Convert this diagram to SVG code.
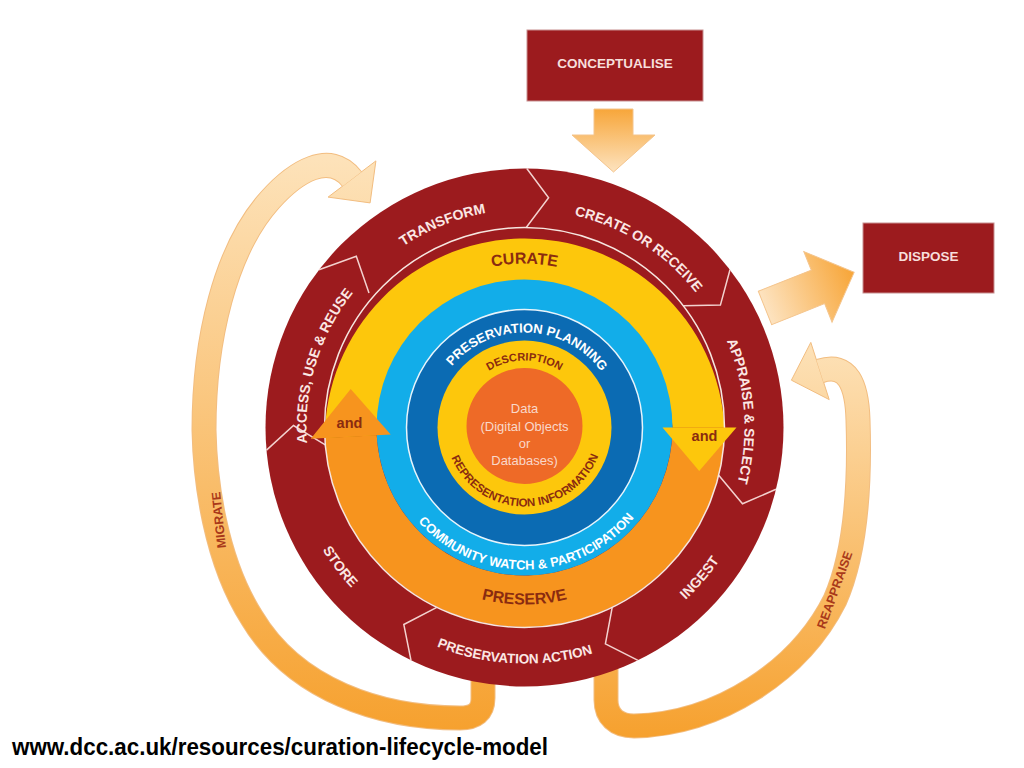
<svg xmlns="http://www.w3.org/2000/svg" width="1024" height="768" viewBox="0 0 1024 768">
<defs>
<style>
.f{font-family:"Liberation Sans",Arial,sans-serif;font-weight:bold}
.rl{fill:#fbe7e4;font-size:14px}
.br{fill:#8a2b10}
.wt{fill:#ffffff;font-size:13px}
.box{fill:#9c1b1e;stroke:#c79090;stroke-width:1}
.bt{fill:#f7dedb;font-size:13.5px}
.sep{fill:none;stroke:#f3d2cf;stroke-width:1.5;stroke-linejoin:miter}
.bandb{fill:none;stroke:#f2bd80;stroke-width:25}
.lbl{fill:#a9391a;font-size:12.5px}
.core{font-family:"Liberation Sans",Arial,sans-serif;fill:#f9d8ca;font-size:13px}
</style>
<linearGradient id="gMig" gradientUnits="userSpaceOnUse" x1="0" y1="160" x2="0" y2="730"><stop offset="0" stop-color="#fde2b9"/><stop offset="1" stop-color="#f6a12f"/></linearGradient>
<linearGradient id="gRea" gradientUnits="userSpaceOnUse" x1="0" y1="340" x2="0" y2="735"><stop offset="0" stop-color="#fde2b9"/><stop offset="1" stop-color="#f6a12f"/></linearGradient>
<linearGradient id="gCon" x1="0" y1="0" x2="0" y2="1"><stop offset="0" stop-color="#f7a63a"/><stop offset="1" stop-color="#fde3bf"/></linearGradient>
<linearGradient id="gDis" x1="0" y1="0" x2="1" y2="0"><stop offset="0" stop-color="#fde3c0"/><stop offset="1" stop-color="#f7a537"/></linearGradient>
<path id="cw218" d="M 524.5 645.5 A 218 218 0 1 1 524.5 209.5 A 218 218 0 1 1 524.5 645.5"/>
<path id="cw220" d="M 524.5 647.5 A 220 220 0 1 1 524.5 207.5 A 220 220 0 1 1 524.5 647.5"/>
<path id="cw164" d="M 524.5 591.5 A 164 164 0 1 1 524.5 263.5 A 164 164 0 1 1 524.5 591.5"/>
<path id="cw95" d="M 524.5 522.5 A 95 95 0 1 1 524.5 332.5 A 95 95 0 1 1 524.5 522.5"/>
<path id="cw67" d="M 524.5 494.5 A 67 67 0 1 1 524.5 360.5 A 67 67 0 1 1 524.5 494.5"/>
<path id="ccw236" d="M 524.5 191.5 A 236 236 0 1 0 524.5 663.5 A 236 236 0 1 0 524.5 191.5"/>
<path id="ccw177" d="M 524.5 250.5 A 177 177 0 1 0 524.5 604.5 A 177 177 0 1 0 524.5 250.5"/>
<path id="ccw142" d="M 524.5 285.5 A 142 142 0 1 0 524.5 569.5 A 142 142 0 1 0 524.5 285.5"/>
<path id="ccw79" d="M 524.5 348.5 A 79 79 0 1 0 524.5 506.5 A 79 79 0 1 0 524.5 348.5"/>
</defs>
<rect width="1024" height="768" fill="#ffffff"/>

<g id="connectors">
  <g id="migrate">
    <path class="bandb" d="M 483 660 L 483 698 C 483 712 475 718 460 718 C 380 718 295 690 252 618 C 215 560 205 480 204 430 C 204 340 225 250 270 200 C 295 172 330 150 352 179"/>
    <polygon points="375.9,160.9 370.1,202.9 328.1,197.1" fill="url(#gMig)" stroke="#f2bd80" stroke-width="1"/>
    <path d="M 483 660 L 483 698 C 483 712 475 718 460 718 C 380 718 295 690 252 618 C 215 560 205 480 204 430 C 204 340 225 250 270 200 C 295 172 330 150 352 179" fill="none" stroke="url(#gMig)" stroke-width="23"/>
    <text class="f lbl" transform="translate(219 520) rotate(-96)" text-anchor="middle" dominant-baseline="central">MIGRATE</text>
  </g>
  <g id="reappraise">
    <path class="bandb" d="M 606 660 L 606 700 C 606 716 616 726 634 726 C 720 724 800 670 835 600 C 857 550 860 480 858 420 C 857 385 848 362 820 371"/>
    <polygon points="810.8,342.4 791.4,380.2 829.2,399.6" fill="url(#gRea)" stroke="#f2bd80" stroke-width="1"/>
    <path d="M 606 660 L 606 700 C 606 716 616 726 634 726 C 720 724 800 670 835 600 C 857 550 860 480 858 420 C 857 385 848 362 820 371" fill="none" stroke="url(#gRea)" stroke-width="23"/>
    <text class="f lbl" transform="translate(835 590) rotate(-70)" text-anchor="middle" dominant-baseline="central">REAPPRAISE</text>
  </g>
  <polygon id="arrow-conceptualise" points="594,109 633,109 633,135 655,135 613.5,172 572,135 594,135" fill="url(#gCon)" stroke="#f4c48c" stroke-width="1"/>
  <g id="arrow-dispose" transform="translate(765 308) rotate(-21.8)">
    <polygon points="0,-18 57,-18 57,-38 96,0 57,38 57,18 0,18" fill="url(#gDis)" stroke="#f4c48c" stroke-width="1"/>
  </g>
</g>

<g id="conceptualise">
  <rect class="box" x="527" y="30" width="176" height="71"/>
  <text class="f bt" x="615" y="68" text-anchor="middle">CONCEPTUALISE</text>
</g>
<g id="dispose">
  <rect class="box" x="863" y="223" width="131" height="70"/>
  <text class="f bt" x="928.5" y="260.5" text-anchor="middle">DISPOSE</text>
</g>

<g id="lifecycle">
  <circle cx="524.5" cy="427.5" r="259" fill="#9c1b1e"/>
  <g id="separators">
    <polyline class="sep" points="526.8,168.5 548.6,197.8 526.2,227.5"/>
    <polyline class="sep" points="730.0,269.8 720.4,305.1 683.2,305.7"/>
    <polyline class="sep" points="776.0,489.3 742.5,503.8 718.7,475.2"/>
    <polyline class="sep" points="638.0,660.3 605.4,643.9 612.2,607.3"/>
    <polyline class="sep" points="411.0,660.3 403.8,624.5 436.8,607.3"/>
    <polyline class="sep" points="266.5,450.1 293.5,425.5 325.3,444.9"/>
    <polyline class="sep" points="319.0,269.8 356.3,256.3 369.0,293.0"/>
  </g>
  <g id="action-labels">
    <g id="access"><text class="f rl" text-anchor="middle" font-size="13"><textPath href="#cw218" startOffset="29.72%">ACCESS, USE &amp; REUSE</textPath></text></g>
    <g id="transform"><text class="f rl" text-anchor="middle"><textPath href="#cw218" startOffset="43.89%">TRANSFORM</textPath></text></g>
    <g id="create"><text class="f rl" text-anchor="middle"><textPath href="#cw218" startOffset="59.03%">CREATE OR RECEIVE</textPath></text></g>
    <g id="appraise"><text class="f rl" text-anchor="middle"><textPath href="#cw220" startOffset="73.8%">APPRAISE &amp; SELECT</textPath></text></g>
    <g id="store"><text class="f rl" text-anchor="middle"><textPath href="#ccw236" startOffset="35.28%">STORE</textPath></text></g>
    <g id="preservation-action"><text class="f rl" text-anchor="middle" style="font-size:13.5px"><textPath href="#ccw236" startOffset="49.31%">PRESERVATION ACTION</textPath></text></g>
    <g id="ingest"><text class="f rl" text-anchor="middle"><textPath href="#ccw236" startOffset="63.72%">INGEST</textPath></text></g>
  </g>

  <g id="curate-preserve">
    <path d="M 724.5 427.5 A 200 200 0 0 1 324.8 437.9 L 376.7 435.2 A 148 148 0 0 0 672.5 427.5 Z" fill="#f7941e"/>
    <path d="M 324.8 437.9 A 200 200 0 0 1 724.5 427.5 L 672.5 427.5 A 148 148 0 0 0 376.7 435.2 Z" fill="#fdc70c"/>
    <circle cx="524.5" cy="427.5" r="200" fill="none" stroke="#f6e6e0" stroke-width="1.5"/>
    <text class="f br" text-anchor="middle" font-size="16"><textPath href="#cw164" startOffset="50%">CURATE</textPath></text>
    <text class="f br" text-anchor="middle" font-size="16"><textPath href="#ccw177" startOffset="50%">PRESERVE</textPath></text>
  </g>

  <g id="community">
    <circle cx="524.5" cy="427.5" r="148" fill="#12ade9"/>
    <text class="f wt" text-anchor="middle"><textPath href="#ccw142" startOffset="50.28%">COMMUNITY WATCH &amp; PARTICIPATION</textPath></text>
  </g>
  <g id="and-arrows">
    <polygon points="736.5,427.5 699.2,471.0 662.5,427.5" fill="#fdc70c"/>
    <polygon points="310.8,438.7 350.7,389.0 390.7,434.5" fill="#f7941e"/>
    <text class="f br" x="349.5" y="428" text-anchor="middle" font-size="14.5">and</text>
    <text class="f br" x="704.5" y="441" text-anchor="middle" font-size="14.5">and</text>
  </g>
  <g id="planning">
    <circle cx="524.5" cy="427.5" r="118" fill="#0b6bb3" stroke="#e8f4fb" stroke-width="1.5"/>
    <text class="f wt" text-anchor="middle"><textPath href="#cw95" startOffset="50.56%">PRESERVATION PLANNING</textPath></text>
  </g>
  <g id="description">
    <circle cx="524.5" cy="427.5" r="87" fill="#fdc70c"/>
    <text class="f br" text-anchor="middle" font-size="11"><textPath href="#cw67" startOffset="50%">DESCRIPTION</textPath></text>
    <text class="f br" text-anchor="middle" font-size="11.5"><textPath href="#ccw79" startOffset="50.17%">REPRESENTATION INFORMATION</textPath></text>
  </g>
  <g id="data">
    <circle cx="524.5" cy="426" r="58" fill="#ee6a27"/>
    <text class="core" x="524.5" y="412.5" text-anchor="middle">Data</text>
    <text class="core" x="524.5" y="430.5" text-anchor="middle">(Digital Objects</text>
    <text class="core" x="524.5" y="448" text-anchor="middle">or</text>
    <text class="core" x="524.5" y="465" text-anchor="middle">Databases)</text>
  </g>
</g>

<text id="url" class="f" x="12" y="755" font-size="23" fill="#000000" textLength="536" lengthAdjust="spacingAndGlyphs">www.dcc.ac.uk/resources/curation-lifecycle-model</text>
</svg>
